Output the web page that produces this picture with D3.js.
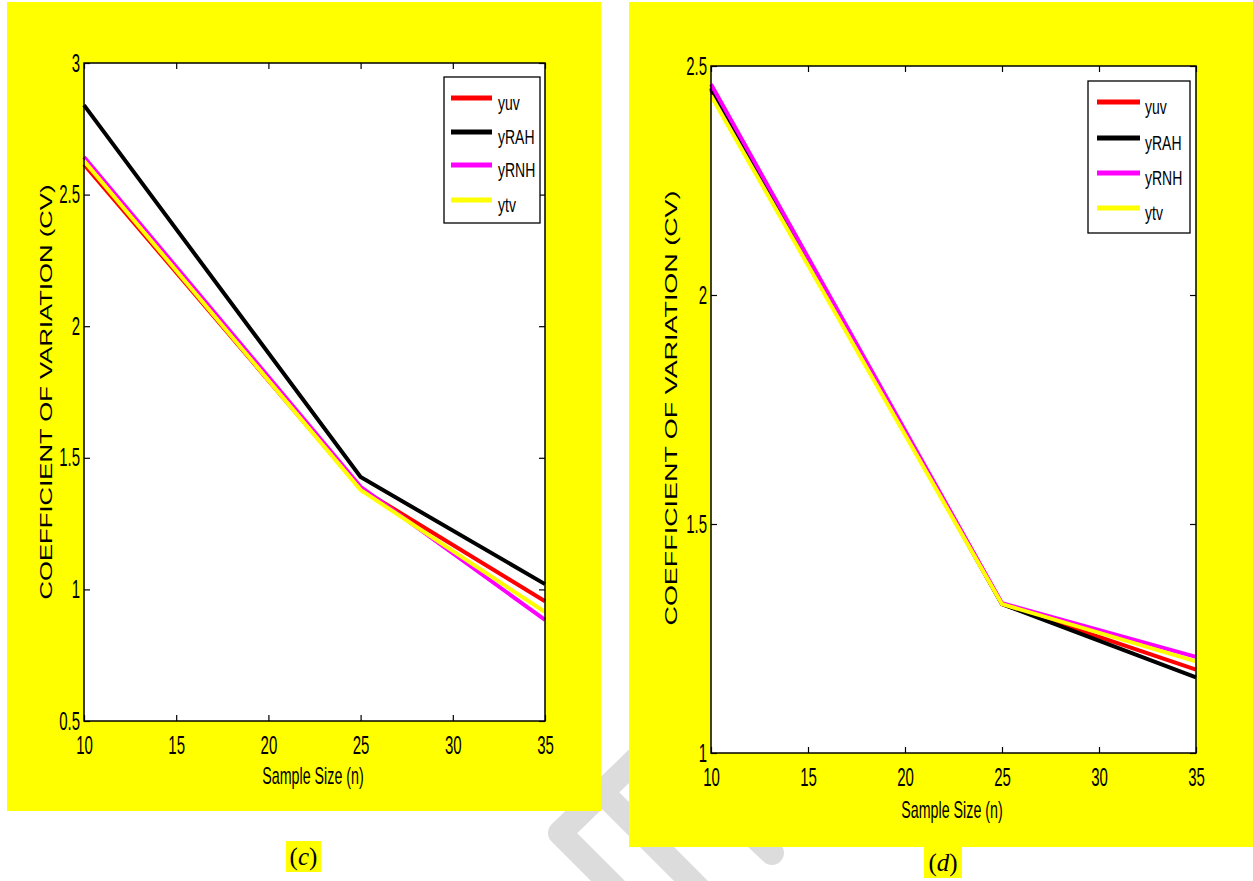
<!DOCTYPE html>
<html>
<head>
<meta charset="utf-8">
<script src="https://cdn.jsdelivr.net/npm/d3@7"></script>
<style>
  html, body { margin: 0; padding: 0; background: #ffffff; }
  svg { display: block; }
</style>
</head>
<body>
<svg id="fig" width="1253" height="881" font-family="Liberation Sans, Arial, sans-serif"></svg>
<script>
// Sample sizes at which the coefficient of variation was evaluated
const sampleSize = [10, 25, 35];

// Estimators shown in both panels
const seriesNames = ["yuv", "yRAH", "yRNH", "ytv"];
const seriesColors = ["#ff0000", "#000000", "#ff00ff", "#ffff00"];

// Panel (c): CV of each estimator
const cYuv  = [2.615, 1.383, 0.955];
const cYRAH = [2.840, 1.427, 1.020];
const cYRNH = [2.643, 1.390, 0.884];
const cYtv  = [2.628, 1.378, 0.914];

// Panel (d): CV of each estimator
const dYuv  = [2.448, 1.325, 1.182];
const dYRAH = [2.452, 1.325, 1.165];
const dYRNH = [2.460, 1.327, 1.210];
const dYtv  = [2.435, 1.325, 1.200];

// Tick labels
const xTicks  = [10, 15, 20, 25, 30, 35];
const cYTicks = [0.5, 1, 1.5, 2, 2.5, 3];
const dYTicks = [1, 1.5, 2, 2.5];

const svg = d3.select("#fig");

// Faint grey background logo strokes
const logo = svg.append("g")
  .attr("fill", "none")
  .attr("stroke", "#dcdcdc")
  .attr("stroke-width", 24)
  .attr("stroke-linecap", "round")
  .attr("stroke-linejoin", "round");
logo.append("path").attr("d", "M650,746 L560,833 L620,893");
logo.append("path").attr("d", "M600,790 L700,890");
logo.append("path").attr("d", "M690,776 L772,853");

const TICK_SCALE = 0.6;
const TICK_FONT = 25;

function drawPanel(cfg) {
  const g = svg.append("g");
  // yellow figure background
  g.append("rect")
    .attr("x", cfg.bg[0]).attr("y", cfg.bg[1])
    .attr("width", cfg.bg[2] - cfg.bg[0]).attr("height", cfg.bg[3] - cfg.bg[1])
    .attr("fill", "#ffff00");

  const x = d3.scaleLinear().domain([10, 35]).range([cfg.box[0], cfg.box[2]]);
  const y = d3.scaleLinear().domain(cfg.yDomain).range([cfg.box[3], cfg.box[1]]);

  // white axes area
  g.append("rect")
    .attr("x", cfg.box[0]).attr("y", cfg.box[1])
    .attr("width", cfg.box[2] - cfg.box[0]).attr("height", cfg.box[3] - cfg.box[1])
    .attr("fill", "#ffffff");

  // data lines
  const line = d3.line().x((d, i) => x(sampleSize[i])).y(d => y(d));
  cfg.series.forEach((vals, k) => {
    g.append("path")
      .datum(vals)
      .attr("d", line)
      .attr("fill", "none")
      .attr("stroke", seriesColors[k])
      .attr("stroke-width", 4)
      .attr("stroke-linejoin", "miter");
  });

  // axes with inward ticks on all four sides
  const bottom = g.append("g").attr("transform", `translate(0,${cfg.box[3]})`)
    .call(d3.axisBottom(x).tickValues(xTicks).tickFormat(d3.format("d"))
      .tickSizeInner(-6).tickSizeOuter(0).tickPadding(15));
  const top = g.append("g").attr("transform", `translate(0,${cfg.box[1]})`)
    .call(d3.axisTop(x).tickValues(xTicks).tickFormat("")
      .tickSizeInner(-6).tickSizeOuter(0));
  const left = g.append("g").attr("transform", `translate(${cfg.box[0]},0)`)
    .call(d3.axisLeft(y).tickValues(cfg.yTicks).tickFormat(d => String(d))
      .tickSizeInner(-6).tickSizeOuter(0).tickPadding(4));
  const right = g.append("g").attr("transform", `translate(${cfg.box[2]},0)`)
    .call(d3.axisRight(y).tickValues(cfg.yTicks).tickFormat("")
      .tickSizeInner(-6).tickSizeOuter(0));

  [bottom, top, left, right].forEach(a => {
    a.attr("font-family", null).attr("font-size", null);
    a.select(".domain").remove();
    a.selectAll(".tick line").attr("stroke", "#000").attr("stroke-width", 1.2);
  });
  bottom.selectAll(".tick text")
    .attr("font-size", TICK_FONT)
    .attr("transform", `scale(${TICK_SCALE},1)`);
  left.selectAll(".tick text")
    .attr("font-size", TICK_FONT)
    .attr("x", -4 / TICK_SCALE)
    .attr("transform", `scale(${TICK_SCALE},1)`);

  // axes box
  g.append("rect")
    .attr("x", cfg.box[0]).attr("y", cfg.box[1])
    .attr("width", cfg.box[2] - cfg.box[0]).attr("height", cfg.box[3] - cfg.box[1])
    .attr("fill", "none").attr("stroke", "#000").attr("stroke-width", 1.5);

  // legend
  const L = cfg.legend;
  g.append("rect")
    .attr("x", L.x0).attr("y", L.y0)
    .attr("width", L.x1 - L.x0).attr("height", L.y1 - L.y0)
    .attr("fill", "#ffffff").attr("stroke", "#000").attr("stroke-width", 1.3);
  seriesNames.forEach((name, k) => {
    const ly = L.rows[k];
    g.append("line")
      .attr("x1", L.lineX0).attr("x2", L.lineX1)
      .attr("y1", ly).attr("y2", ly)
      .attr("stroke", seriesColors[k]).attr("stroke-width", 5);
    g.append("text")
      .attr("transform", `translate(${L.textX},${ly + 12}) scale(0.7,1)`)
      .attr("font-size", 20)
      .text(name);
  });

  // axis titles
  g.append("text")
    .attr("transform", `translate(${cfg.xTitle[0]},${cfg.xTitle[1]}) scale(0.62,1)`)
    .attr("text-anchor", "middle")
    .attr("font-size", 23)
    .text("Sample Size (n)");
  g.append("text")
    .attr("transform", `translate(${cfg.yTitle[0]},${cfg.yTitle[1]}) rotate(-90)`)
    .attr("text-anchor", "middle")
    .attr("font-size", 17)
    .attr("textLength", cfg.yTitle[2])
    .attr("lengthAdjust", "spacingAndGlyphs")
    .text("COEFFICIENT OF VARIATION (CV)");

  // panel caption with highlight
  const C = cfg.caption;
  svg.append("rect")
    .attr("x", C.x0).attr("y", C.y0)
    .attr("width", C.x1 - C.x0).attr("height", C.y1 - C.y0)
    .attr("fill", "#ffff00");
  const cap = svg.append("text")
    .attr("x", (C.x0 + C.x1) / 2).attr("y", C.base)
    .attr("text-anchor", "middle")
    .attr("font-family", "Liberation Serif, DejaVu Serif, serif")
    .attr("font-size", 25);
  cap.append("tspan").text("(");
  cap.append("tspan").attr("font-style", "italic").text(C.letter);
  cap.append("tspan").text(")");
}

drawPanel({
  bg: [7, 2, 601, 811],
  box: [84, 63, 545, 721],
  yDomain: [0.5, 3],
  yTicks: cYTicks,
  series: [cYuv, cYRAH, cYRNH, cYtv],
  legend: { x0: 444, y0: 77, x1: 540, y1: 223, lineX0: 451, lineX1: 492, textX: 498, rows: [98, 132, 165, 200] },
  xTitle: [313, 784],
  yTitle: [52, 392, 415],
  caption: { x0: 286, y0: 841, x1: 321, y1: 872, base: 865, letter: "c" }
});

drawPanel({
  bg: [629, 2, 1253, 847],
  box: [711, 66, 1196, 753],
  yDomain: [1, 2.5],
  yTicks: dYTicks,
  series: [dYuv, dYRAH, dYRNH, dYtv],
  legend: { x0: 1088, y0: 81, x1: 1190, y1: 233, lineX0: 1097, lineX1: 1140, textX: 1145, rows: [102, 138, 173, 208] },
  xTitle: [952, 818],
  yTitle: [677, 408, 435],
  caption: { x0: 924, y0: 847, x1: 962, y1: 878, base: 871, letter: "d" }
});
</script>
</body>
</html>
